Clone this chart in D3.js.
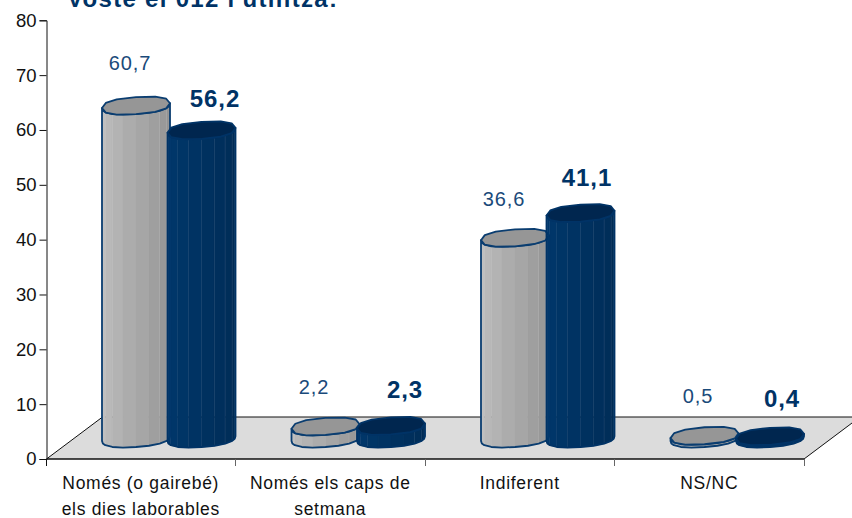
<!DOCTYPE html>
<html><head><meta charset="utf-8">
<script src="https://cdn.jsdelivr.net/npm/d3@7"></script>
<style>html,body{margin:0;background:#fff}svg{display:block}text{font-family:"Liberation Sans",Arial,sans-serif}</style>
</head><body><svg id="c" width="852" height="518"></svg>
<script>
const titleText = "Vosté el 012 l'utilitza:";
const categories = [["Només (o gairebé)","els dies laborables"],["Només els caps de","setmana"],["Indiferent"],["NS/NC"]];
const seriesA = [60.7, 2.2, 36.6, 0.5];
const seriesB = [56.2, 2.3, 41.1, 0.4];
const labelsA = ["60,7","2,2","36,6","0,5"];
const labelsB = ["56,2","2,3","41,1","0,4"];
const yTicks = [0,10,20,30,40,50,60,70,80];

const svg=d3.select("#c");
const y=d3.scaleLinear().domain([0,80]).range([459,20.3]);
const x=d3.scaleBand().domain(d3.range(4)).range([46,804]);
const step=x.step();
const depth=42, shear=56;
const navy="#003366";

// floor
const fl=`M46.5,459 L${46.5+shear},${459-depth} L${804+shear},${459-depth} L804,459`;
svg.append("path").attr("d",fl+" Z").attr("fill","#dcdcdc");
svg.append("path").attr("d",fl).attr("fill","none").attr("stroke","#111").attr("stroke-width",1);

// axes
const gy=svg.append("g").attr("transform","translate(46.5,0)").call(d3.axisLeft(y).tickValues(yTicks).tickSize(7).tickPadding(3).tickFormat(d3.format("d")));
gy.selectAll("text").attr("font-size",18.5).attr("fill","#111").style("font-family",'"Liberation Sans"');
gy.selectAll("line,path").attr("stroke","#111");
const gx=svg.append("g").attr("transform","translate(0,459)");
gx.append("line").attr("x1",46.5).attr("x2",804).attr("stroke","#111").attr("stroke-width",1.4);
d3.range(5).forEach(i=>{const tx=Math.floor(46+i*step)+.5;gx.append("line").attr("x1",tx).attr("x2",tx).attr("y1",0).attr("y2",7).attr("stroke",i<1?"#111":"#666");});
categories.forEach((c,i)=>{
  const t=svg.append("text").attr("text-anchor","middle").attr("font-size",17.5).attr("fill","#111").attr("letter-spacing",.7);
  c.forEach((l,j)=>t.append("tspan").attr("x",x(i)+step/2).attr("y",489+j*26).text(l));
});

// faceted cylinder
const angles=[0,14,28,50,72,90,108,130,152,166,180];
const sp=(v,e)=>Math.sign(v)*Math.pow(Math.abs(v),e);
function rim(cx,cy,rx,ry){
  return a=>{const r=a*Math.PI/180;const px=sp(Math.cos(r),.82)*rx,py=sp(Math.sin(r),.82)*ry;return [cx+px,cy+py-px*0.07];};
}
const palette={
  a:{light:"#c6c6c6",dark:"#8c8c8c",top:"#969696",stroke:"#0a3d70",line:"#dcdcdc"},
  b:{light:"#003a70",dark:"#002a52",top:"#00264f",stroke:"#003366",line:"#3f6a94"}
};
const base=438.5, rx=34, ry=8.5;
function cylinder(cx,val,p){
  const h=y(0)-y(val), top=base-h;
  const g=svg.append("g");
  const bR=rim(cx,base,rx,ry), tR=rim(cx,top,rx,ry);
  const col=d3.scaleLinear().domain([0,1]).range([p.light,p.dark]);
  const A=angles.slice().reverse();
  for(let i=0;i<A.length-1;i++){
    const a=bR(A[i]),b=bR(A[i+1]),c=tR(A[i+1]),d=tR(A[i]);
    g.append("polygon").attr("points",[a,b,c,d].join(" ")).attr("fill",col(i/(A.length-2))).attr("stroke",col(i/(A.length-2))).attr("stroke-width",.4);
    if(i>5&&h>5) g.append("line").attr("x1",b[0]).attr("y1",b[1]).attr("x2",c[0]).attr("y2",c[1]).attr("stroke",p.line).attr("stroke-width",.6).attr("opacity",.55);
  }
  const outline=[...A.map(bR),...angles.map(tR)];
  g.append("polygon").attr("points",outline.join(" ")).attr("fill","none").attr("stroke",p.stroke).attr("stroke-width",1.8).attr("stroke-linejoin","round");
  const topPts=d3.range(0,360,30).map(tR);
  g.append("path").attr("d",d3.line().curve(d3.curveLinearClosed)(topPts)).attr("fill",p.top).attr("stroke",p.stroke).attr("stroke-width",1.8).attr("stroke-linejoin","round");
}
d3.range(4).forEach(i=>{
  cylinder(x(i)+90,seriesA[i],palette.a);
  cylinder(x(i)+155.5,seriesB[i],palette.b);
});

// data labels
const aY=[70,394,206,403], bY=[107,398,186,407], aX=[130,314,504,698], bX=[215,405,587,782];
labelsA.forEach((l,i)=>svg.append("text").attr("x",aX[i]).attr("y",aY[i]).attr("text-anchor","middle").attr("font-size",20).attr("letter-spacing",.9).attr("fill","#1a4a7a").text(l));
labelsB.forEach((l,i)=>svg.append("text").attr("x",bX[i]).attr("y",bY[i]).attr("text-anchor","middle").attr("font-size",24).attr("font-weight","bold").attr("letter-spacing",.9).attr("fill",navy).text(l));

svg.append("text").attr("x",67).attr("y",6.5).attr("font-size",24).attr("font-weight","bold").attr("letter-spacing",1.3).attr("fill",navy).text(titleText);
</script></body></html>
